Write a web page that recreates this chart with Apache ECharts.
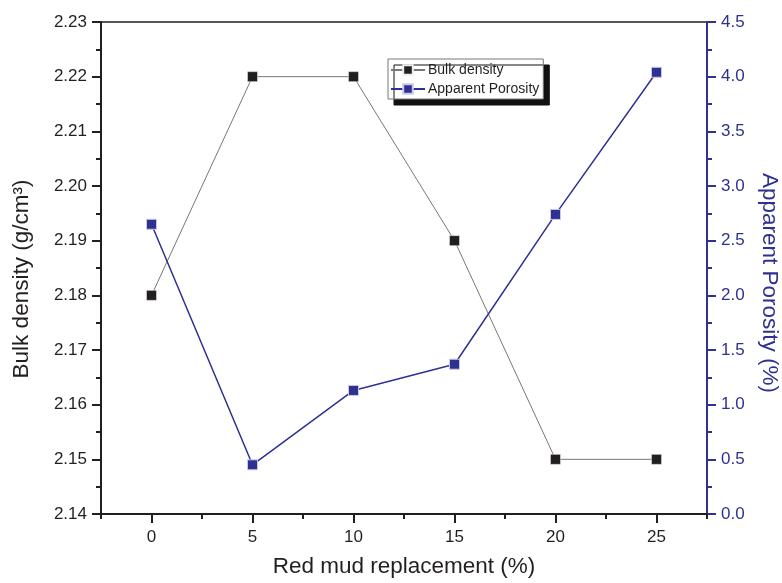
<!DOCTYPE html>
<html>
<head>
<meta charset="utf-8">
<script src="https://cdn.jsdelivr.net/npm/echarts@6/dist/echarts.min.js"></script>
<style>
html,body{margin:0;padding:0;background:#fff;}
#chart{width:782px;height:583px;}
</style>
</head>
<body>
<div id="chart"></div>
<script>
var replacement = [0, 5, 10, 15, 20, 25];
var bulkDensity = [2.18, 2.22, 2.22, 2.19, 2.15, 2.15];
var apparentPorosity = [2.65, 0.45, 1.13, 1.37, 2.74, 4.04];
var xMajorTicks = [0, 5, 10, 15, 20, 25];
var xMinorTicks = [-2.5, 2.5, 7.5, 12.5, 17.5, 22.5, 27.5];

var dark = '#231F20';
var navy = '#2E3192';
var font = '"Liberation Sans", Arial, sans-serif';

function pairs(xs, ys) { return xs.map(function (x, i) { return [x, ys[i]]; }); }

var chart = echarts.init(document.getElementById('chart'), null, { renderer: 'canvas' });
chart.setOption({
  animation: false,
  backgroundColor: '#fff',
  textStyle: { fontFamily: font },
  grid: { left: 101, right: 75, top: 22, bottom: 69, outerBoundsMode: 'none', containLabel: false,
          show: true, borderColor: dark, borderWidth: 1.5, backgroundColor: 'transparent' },
  legend: {
    orient: 'vertical', left: 388, top: 59,
    padding: [4, 4, 3, 2], itemWidth: 34, itemHeight: 12, itemGap: 5,
    backgroundColor: '#fff', borderColor: '#777', borderWidth: 1,
    shadowColor: '#111', shadowOffsetX: 6, shadowOffsetY: 6, shadowBlur: 0,
    textStyle: { fontFamily: font, fontSize: 14, color: dark, padding: [0, 0, 0, -2] },
    data: ['Bulk density', 'Apparent Porosity']
  },
  xAxis: [{
    type: 'value', min: -2.5, max: 27.5, position: 'bottom',
    name: 'Red mud replacement (%)', nameLocation: 'middle', nameGap: 41,
    nameTextStyle: { fontSize: 22.5, color: dark, fontFamily: font },
    axisLine: { show: true, onZero: false, lineStyle: { color: dark, width: 2 } },
    axisTick: { show: true, inside: false, length: 9, lineStyle: { color: dark, width: 2 }, customValues: xMajorTicks },
    axisLabel: { show: true, fontSize: 17, color: dark, margin: 15, customValues: xMajorTicks, fontFamily: font },
    splitLine: { show: false }
  }, {
    type: 'value', min: -2.5, max: 27.5, position: 'bottom', gridIndex: 0,
    axisLine: { show: false, onZero: false },
    axisTick: { show: true, length: 5, lineStyle: { color: dark, width: 2 }, customValues: xMinorTicks },
    axisLabel: { show: false },
    splitLine: { show: false }
  }],
  yAxis: [{
    type: 'value', min: 2.14, max: 2.23, interval: 0.01, position: 'left',
    name: 'Bulk density (g/cm³)', nameLocation: 'middle', nameGap: 68,
    nameTextStyle: { fontSize: 22.5, color: dark, fontFamily: font, padding: [0, 22, 0, 0] },
    axisLine: { show: true, onZero: false, lineStyle: { color: dark, width: 2 } },
    axisTick: { show: true, length: 9, lineStyle: { color: dark, width: 2 } },
    minorTick: { show: true, splitNumber: 2, length: 5, lineStyle: { color: dark, width: 2 } },
    axisLabel: { fontSize: 17, color: dark, margin: 14, fontFamily: font, formatter: function (v) { return v.toFixed(2); } },
    splitLine: { show: false }
  }, {
    type: 'value', min: 0, max: 4.5, interval: 0.5, position: 'right',
    name: 'Apparent Porosity (%)', nameLocation: 'middle', nameGap: 51, nameRotate: -90,
    nameTextStyle: { fontSize: 22.5, color: navy, fontFamily: font, padding: [0, 0, 0, 30] },
    axisLine: { show: true, onZero: false, lineStyle: { color: navy, width: 2 } },
    axisTick: { show: true, length: 9, lineStyle: { color: navy, width: 2 } },
    minorTick: { show: true, splitNumber: 2, length: 5, lineStyle: { color: navy, width: 2 } },
    axisLabel: { fontSize: 17, color: navy, margin: 14, fontFamily: font, formatter: function (v) { return v.toFixed(1); } },
    splitLine: { show: false }
  }],
  series: [{
    name: 'Bulk density', type: 'line', xAxisIndex: 0, yAxisIndex: 0,
    data: pairs(replacement, bulkDensity),
    symbol: 'rect', symbolSize: 10, showSymbol: true,
    lineStyle: { color: '#777', width: 1 },
    itemStyle: { color: dark, borderColor: '#eee', borderWidth: 0.5 },
    z: 3
  }, {
    name: 'Apparent Porosity', type: 'line', xAxisIndex: 0, yAxisIndex: 1,
    data: pairs(replacement, apparentPorosity),
    symbol: 'rect', symbolSize: 10, showSymbol: true,
    lineStyle: { color: navy, width: 1.5 },
    itemStyle: { color: navy, borderColor: '#c9c9e6', borderWidth: 1 },
    z: 4
  }]
});
</script>
</body>
</html>
